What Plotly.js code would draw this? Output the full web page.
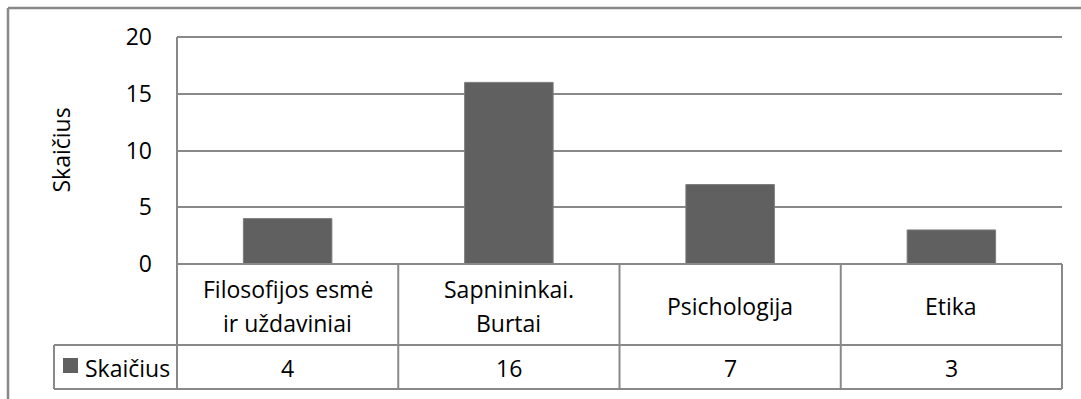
<!DOCTYPE html>
<html>
<head>
<meta charset="utf-8">
<script src="https://cdn.plot.ly/plotly-3.0.1.min.js"></script>
<style>html,body{margin:0;padding:0;background:#fff;}#chart{width:1081px;height:399px;}</style>
</head>
<body>
<div id="chart"></div>
<script>
// ---- data ----
const categories = ['Filosofijos esmė\nir uždaviniai', 'Sapnininkai.\nBurtai', 'Psichologija', 'Etika'];
const values = [4, 16, 7, 3];
const seriesName = 'Skaičius';
const yAxisTitle = 'Skaičius';
const yTickVals = [0, 5, 10, 15, 20];

// ---- layout helpers (pixel geometry of the frame) ----
const W = 1081, H = 399;
const L = 177, R = 1062, T = 37, B = 264;
const pw = R - L, ph = B - T;
const px = x => (x - L) / pw;      // pixel x -> paper
const py = y => (B - y) / ph;      // pixel y -> paper

const gray = '#898989';
const barColor = '#606060';
const FONT = '"Open Sans", "Noto Sans", sans-serif';
const fs = 23;

const xs = categories.map((c, i) => i);

const trace = {
  type: 'bar',
  x: xs,
  y: values,
  name: seriesName,
  marker: {color: barColor, line: {color: '#7c7c7c', width: 1}},
  hoverinfo: 'skip'
};

const shapes = [];
const line = (x0, y0, x1, y1, w) => shapes.push({
  type: 'line', xref: 'paper', yref: 'paper',
  x0: x0, y0: y0, x1: x1, y1: y1,
  line: {color: gray, width: w || 2}
});

// outer frame (top & left)
line(px(8), py(8), px(W + 2), py(8), 2.5);
line(px(8), py(8), px(8), py(H + 2), 2.5);

// top gridline (at the range end, which Plotly omits)
line(0, 1, 1, 1);

// table
const rowTop = B, rowMid = 345, rowBot = 389, legLeft = 54;
const n = categories.length;
for (let k = 0; k <= n; k++) {
  const xp = k / n;
  line(xp, k === 0 ? 1 : py(rowTop), xp, py(rowBot));
}
line(0, py(rowTop), 1, py(rowTop));
line(px(legLeft), py(rowMid), 1, py(rowMid));
line(px(legLeft), py(rowBot), 1, py(rowBot));
line(px(legLeft), py(rowMid), px(legLeft), py(rowBot));

// legend key
shapes.push({type: 'rect', xref: 'paper', yref: 'paper',
  x0: px(63), x1: px(78), y0: py(358), y1: py(373),
  fillcolor: barColor, line: {width: 0}});

const annotations = [];
const txt = (x, xref, y, text, extra) => annotations.push(Object.assign({
  x: x, xref: xref, y: y, yref: 'paper', text: text, showarrow: false,
  font: {family: FONT, size: fs, color: '#000'}, xanchor: 'center', yanchor: 'middle'
}, extra || {}));

const row1Center = (rowTop + rowMid) / 2 + 1;
const row2Center = (rowMid + rowBot) / 2 + 1;
const lineGap = 34;
categories.forEach((c, i) => {
  const lines = c.split('\n');
  lines.forEach((ln, j) => {
    const yc = row1Center + (j - (lines.length - 1) / 2) * lineGap;
    txt(xs[i], 'x', py(yc), ln);
  });
  txt(xs[i], 'x', py(row2Center), String(values[i]));
});
txt(px(83), 'paper', py(row2Center), seriesName, {xanchor: 'left'});
txt(px(60), 'paper', 0.5, yAxisTitle, {textangle: -90});

const layout = {
  width: W, height: H,
  margin: {l: L, r: W - R, t: T, b: H - B, pad: 0},
  paper_bgcolor: '#fff', plot_bgcolor: '#fff',
  showlegend: false,
  bargap: 0.6,
  font: {family: FONT, size: fs, color: '#000'},
  xaxis: {type: 'linear', range: [-0.5, n - 0.5], showgrid: false, zeroline: false,
    showticklabels: false, ticks: '', showline: false, fixedrange: true},
  yaxis: {range: [0, 20], tickvals: yTickVals, ticktext: yTickVals.map(String),
    showgrid: true, gridcolor: gray, gridwidth: 2, zeroline: false, showline: false,
    ticks: '', ticklabelstandoff: 24, tickfont: {family: FONT, size: fs, color: '#000'},
    fixedrange: true},
  shapes: shapes,
  annotations: annotations
};

Plotly.newPlot('chart', [trace], layout, {staticPlot: true, displayModeBar: false});
</script>
</body>
</html>
